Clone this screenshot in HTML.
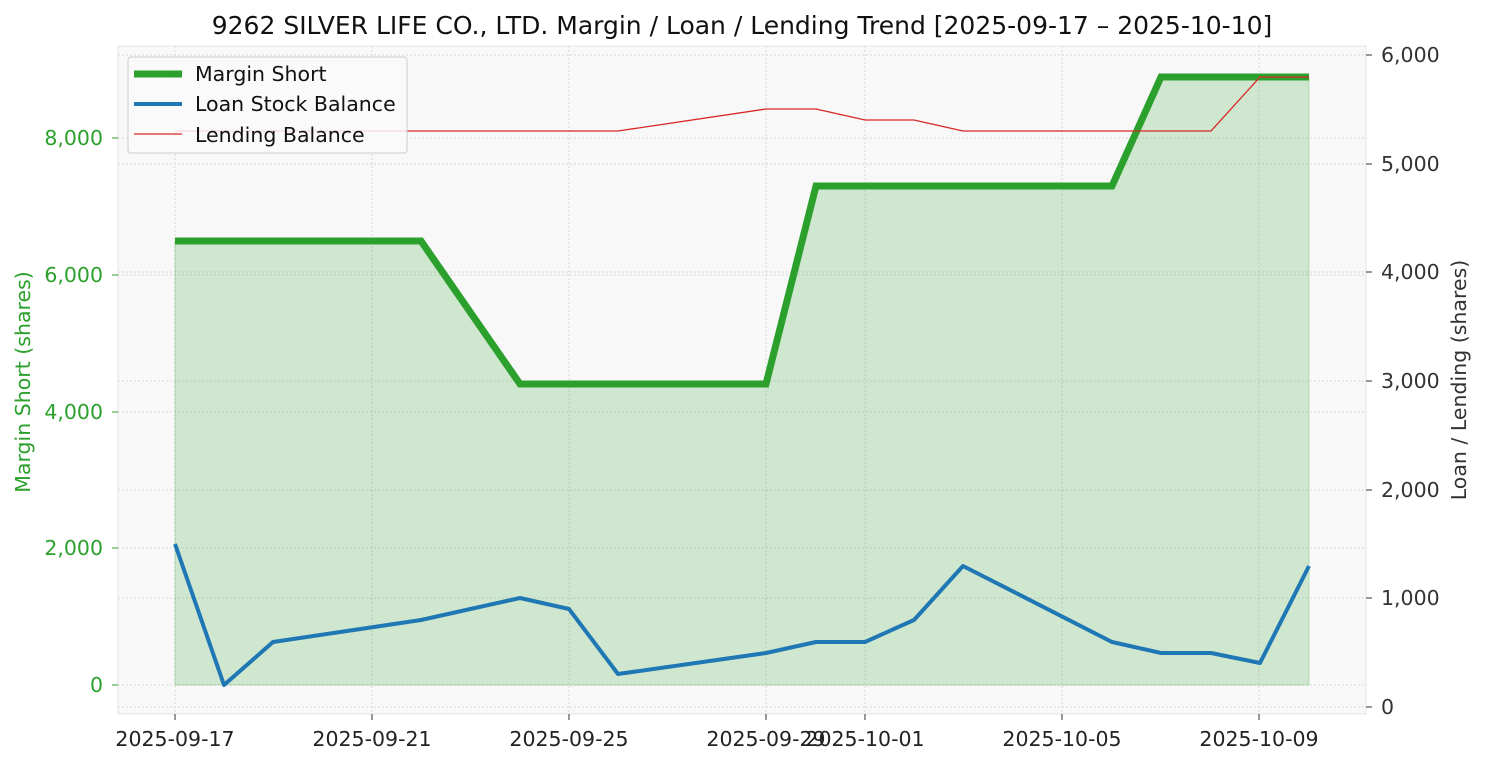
<!DOCTYPE html>
<html><head><meta charset="utf-8"><style>
body{margin:0;background:#fff;}
svg text{font-family:"DejaVu Sans","Liberation Sans",sans-serif;}
</style></head><body>
<svg width="1485" height="765" viewBox="0 0 1485 765" xmlns="http://www.w3.org/2000/svg">
<rect x="118" y="46" width="1248" height="668" fill="#f8f8f8" stroke="#e4e4e4"/>
<g stroke="#d8d8d8" stroke-width="1" stroke-dasharray="2,2">
<line x1="175" y1="46" x2="175" y2="714"/><line x1="372" y1="46" x2="372" y2="714"/>
<line x1="569" y1="46" x2="569" y2="714"/><line x1="766" y1="46" x2="766" y2="714"/>
<line x1="865" y1="46" x2="865" y2="714"/><line x1="1062" y1="46" x2="1062" y2="714"/>
<line x1="1259" y1="46" x2="1259" y2="714"/>
<line x1="118" y1="685" x2="1366" y2="685"/><line x1="118" y1="548" x2="1366" y2="548"/>
<line x1="118" y1="412" x2="1366" y2="412"/><line x1="118" y1="275" x2="1366" y2="275"/>
<line x1="118" y1="138" x2="1366" y2="138"/>
<line x1="118" y1="707" x2="1366" y2="707"/><line x1="118" y1="598" x2="1366" y2="598"/>
<line x1="118" y1="490" x2="1366" y2="490"/><line x1="118" y1="381" x2="1366" y2="381"/>
<line x1="118" y1="272" x2="1366" y2="272"/><line x1="118" y1="164" x2="1366" y2="164"/>
<line x1="118" y1="55" x2="1366" y2="55"/>
</g>
<polygon points="175,685 175,241 421,241 520,384 766,384 816,186 1112,186 1161,77 1309,77 1309,685" fill="#2ca02c" fill-opacity="0.2" stroke="#2ca02c" stroke-opacity="0.25"/>
<polyline points="175,241 421,241 520,384 766,384 816,186 1112,186 1161,77 1309,77" fill="none" stroke="#2ca02c" stroke-width="7"/>
<polyline points="175,544 224,685 273,642 421,620 520,598 569,609 618,674 766,653 816,642 865,642 914,620 963,566 1112,642 1161,653 1211,653 1260,663 1309,566" fill="none" stroke="#1f77b4" stroke-width="4" stroke-linejoin="round"/>
<polyline points="175,131 618,131 766,109 816,109 865,120 914,120 963,131 1211,131 1260,77 1309,77" fill="none" stroke="#d62728" stroke-width="1.3"/>
<g font-size="20.5" fill="#2ca02c" text-anchor="end">
<text x="103" y="692">0</text><text x="103" y="555">2,000</text><text x="103" y="419">4,000</text>
<text x="103" y="282">6,000</text><text x="103" y="145">8,000</text>
</g>
<g stroke="#2ca02c"><line x1="112" y1="685" x2="118" y2="685"/><line x1="112" y1="548" x2="118" y2="548"/><line x1="112" y1="412" x2="118" y2="412"/><line x1="112" y1="275" x2="118" y2="275"/><line x1="112" y1="138" x2="118" y2="138"/></g>
<g stroke="#333"><line x1="1366" y1="707" x2="1372" y2="707"/><line x1="1366" y1="598" x2="1372" y2="598"/><line x1="1366" y1="490" x2="1372" y2="490"/><line x1="1366" y1="381" x2="1372" y2="381"/><line x1="1366" y1="272" x2="1372" y2="272"/><line x1="1366" y1="164" x2="1372" y2="164"/><line x1="1366" y1="55" x2="1372" y2="55"/>
<line x1="175" y1="714" x2="175" y2="720"/><line x1="372" y1="714" x2="372" y2="720"/><line x1="569" y1="714" x2="569" y2="720"/><line x1="766" y1="714" x2="766" y2="720"/><line x1="865" y1="714" x2="865" y2="720"/><line x1="1062" y1="714" x2="1062" y2="720"/><line x1="1259" y1="714" x2="1259" y2="720"/></g>
<g font-size="20.5" fill="#333" text-anchor="start">
<text x="1381" y="714">0</text><text x="1381" y="605">1,000</text><text x="1381" y="497">2,000</text>
<text x="1381" y="388">3,000</text><text x="1381" y="279">4,000</text><text x="1381" y="171">5,000</text>
<text x="1381" y="62">6,000</text>
</g>
<g font-size="20.5" fill="#222" text-anchor="middle">
<text x="175" y="746">2025-09-17</text><text x="372" y="746">2025-09-21</text><text x="569" y="746">2025-09-25</text>
<text x="766" y="746">2025-09-29</text><text x="865" y="746">2025-10-01</text><text x="1062" y="746">2025-10-05</text>
<text x="1259" y="746">2025-10-09</text>
</g>
<text x="30" y="382" font-size="20.5" fill="#2ca02c" text-anchor="middle" transform="rotate(-90 30 382)">Margin Short (shares)</text>
<text x="1466" y="380" font-size="20.5" fill="#333" text-anchor="middle" transform="rotate(-90 1466 380)">Loan / Lending (shares)</text>
<text x="742" y="34" font-size="25" fill="#111" text-anchor="middle">9262 SILVER LIFE CO., LTD. Margin / Loan / Lending Trend [2025-09-17 – 2025-10-10]</text>
<rect x="128" y="57" width="279" height="96" rx="3" fill="#fafafa" fill-opacity="0.85" stroke="#ccc"/>
<line x1="134" y1="74" x2="182" y2="74" stroke="#2ca02c" stroke-width="7"/>
<line x1="134" y1="104" x2="182" y2="104" stroke="#1f77b4" stroke-width="4"/>
<line x1="134" y1="134" x2="182" y2="134" stroke="#d62728" stroke-width="1.3"/>
<g font-size="20.5" fill="#111"><text x="195" y="81">Margin Short</text><text x="195" y="111">Loan Stock Balance</text><text x="195" y="142">Lending Balance</text></g>
</svg>
</body></html>
